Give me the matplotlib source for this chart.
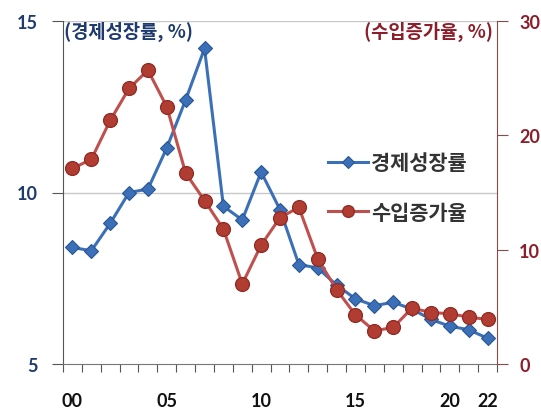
import matplotlib
matplotlib.use("Agg")
import matplotlib.pyplot as plt
import numpy as np

years = list(range(2000, 2023))
growth = [8.4, 8.3, 9.1, 10.0, 10.1, 11.3, 12.7, 14.2, 9.6, 9.2, 10.6, 9.5,
          7.9, 7.8, 7.3, 6.9, 6.7, 6.8, 6.6, 6.3, 6.1, 6.0, 5.75]
imports = [17.1, 17.9, 21.3, 24.1, 25.7, 22.5, 16.7, 14.3, 11.8, 7.0, 10.4, 12.8,
           13.7, 9.2, 6.5, 4.3, 2.9, 3.2, 4.9, 4.5, 4.4, 4.1, 3.9]
tick_years = [2000, 2005, 2010, 2015, 2020, 2022]
tick_labels = ["00", "05", "10", "15", "20", "22"]

KR = "Noto Sans CJK KR"
NUM = "Lato"
blue = "#3b70b8"
blue_dark = "#2a5595"
red = "#c0504d"
red_dark = "#8e2b22"
navy = "#1f3a6e"
maroon = "#8b1e2a"

fig = plt.figure(figsize=(5.41, 4.14), dpi=100)
ax = fig.add_axes([63/541, 1-365/414, (497-63)/541, (365-22)/414])
ax2 = ax.twinx()

x = np.arange(len(years))

ax.set_ylim(5, 15)
ax2.set_ylim(0, 30)
ax.set_xlim(-0.5, len(years) - 0.5)

# gridlines on left axis
for g in (10, 15):
    ax.axhline(g, color="#c8c8c8", lw=1.0, zorder=0)

l1, = ax.plot(x, growth, color=blue, lw=2.2, marker="D", markersize=7,
              markerfacecolor=blue, markeredgecolor=blue_dark, markeredgewidth=0.8,
              zorder=3, label="경제성장률")
l2, = ax2.plot(x, imports, color=red, lw=2.2, marker="o", markersize=10,
               markerfacecolor="#b13c32", markeredgecolor=red_dark, markeredgewidth=0.9,
               zorder=3, label="수입증가율")

# x axis: tick marks between categories, labels on selected years
ax.set_xticks([years.index(y) for y in tick_years])
ax.set_xticklabels(tick_labels, fontfamily=NUM, fontweight="bold", fontsize=13, color="#111111")
ax.tick_params(axis="x", which="major", length=0, pad=20)
ax.set_xticks(np.arange(-0.5, len(years)), minor=True)
ax.tick_params(axis="x", which="minor", length=6, width=0.8, color="#555555", direction="out")

ax.set_yticks([5, 10, 15])
ax.set_yticklabels(["5", "10", "15"], fontfamily=NUM, fontweight="bold", fontsize=13, color=navy)
ax.tick_params(axis="y", length=8, width=0.8, color="#555555", pad=10)

ax2.set_yticks([0, 10, 20, 30])
ax2.set_yticklabels(["0", "10", "20", "30"], fontfamily=NUM, fontweight="bold", fontsize=13, color=maroon)
ax2.tick_params(axis="y", length=8, width=0.8, color="#8b4a4a", pad=8)

for a in (ax, ax2):
    a.spines["top"].set_visible(False)
ax.spines["left"].set_color("#555555")
ax.spines["bottom"].set_color("#777777")
ax.spines["right"].set_visible(False)
ax2.spines["left"].set_visible(False)
ax2.spines["bottom"].set_visible(False)
ax2.spines["right"].set_color("#8b4a4a")

ax.text(0.002, 0.972, "(경제성장률, %)", transform=ax.transAxes, ha="left", va="center",
        fontfamily=KR, fontsize=13.5, color=navy, fontweight="bold")
ax.text(0.99, 0.972, "(수입증가율, %)", transform=ax.transAxes, ha="right", va="center",
        fontfamily=KR, fontsize=13.5, color=maroon, fontweight="bold")

leg = ax.legend(handles=[l1, l2], loc="center left", bbox_to_anchor=(0.5915, 0.5146),
                borderaxespad=0, frameon=False, prop={"family": KR, "size": 15, "weight": "bold"},
                handlelength=1.9, handletextpad=0.15, labelspacing=1.37, markerscale=0.85)
for t in leg.get_texts():
    t.set_color("#333333")

fig.savefig("out.png", dpi=100)
